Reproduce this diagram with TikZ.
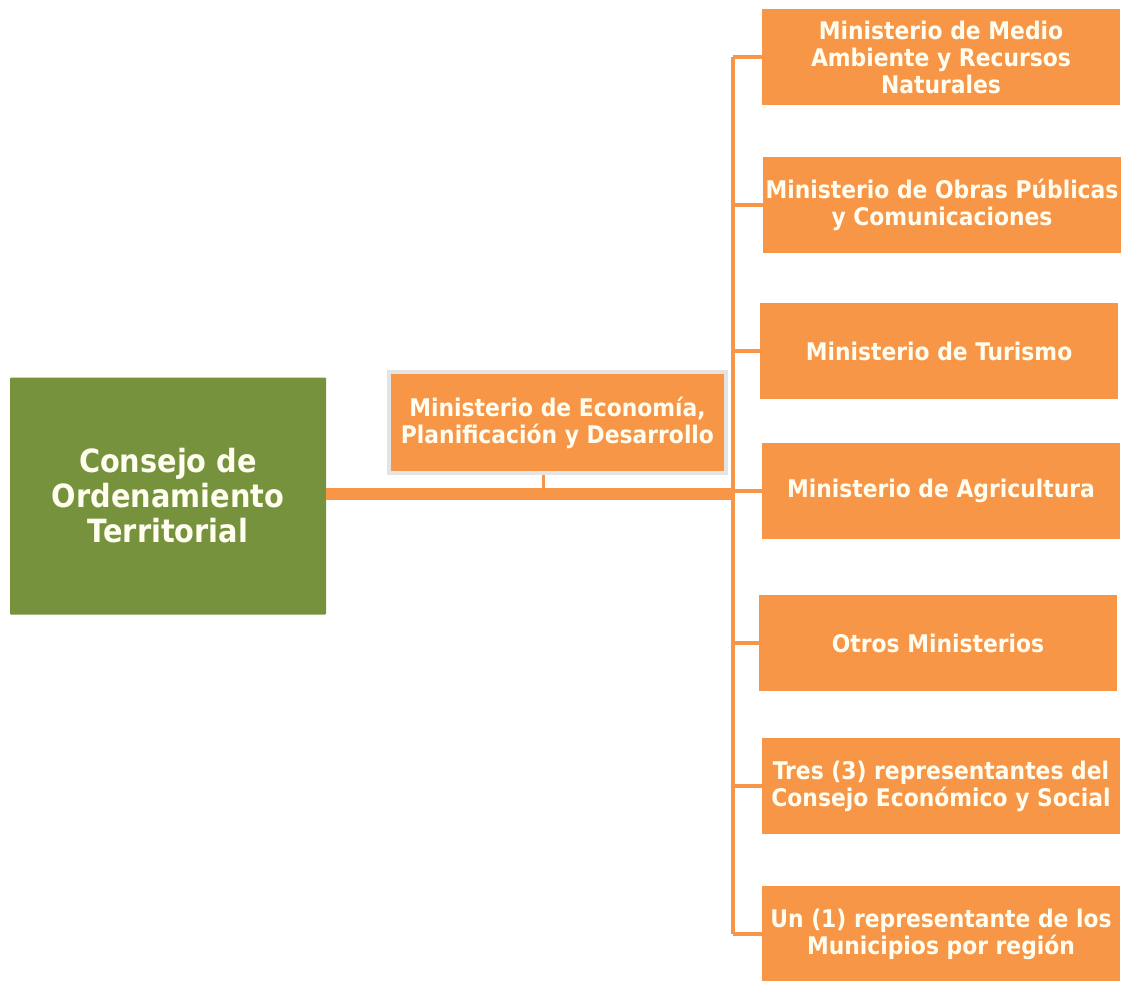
\documentclass[tikz,border=0pt]{standalone}
\usepackage{fontspec}
\setmainfont{DejaVu Sans Condensed}
\definecolor{orgfill}{HTML}{F79646}
\definecolor{grnfill}{HTML}{76923C}
\definecolor{txtcol}{HTML}{FFFDF0}
\definecolor{bordgray}{HTML}{E4E4E4}
\begin{document}
\begin{tikzpicture}[x=1pt,y=-1pt,
  rbox/.style={fill=orgfill, minimum width=358pt, minimum height=96pt, inner sep=0pt,
     text=txtcol, font=\bfseries\fontsize{24.3}{27}\selectfont, align=center},
  gbox/.style={fill=grnfill, minimum width=316pt, minimum height=237pt, inner sep=0pt,
     text=txtcol, font=\bfseries\fontsize{32}{35}\selectfont, align=center, rounded corners=1pt},
  mbox/.style={fill=orgfill, draw=bordgray, line width=4pt, minimum width=337pt, minimum height=101pt, inner sep=0pt,
     text=txtcol, font=\bfseries\fontsize{24.3}{27}\selectfont, align=center},
  conn/.style={draw=orgfill, line width=4pt},
  thick conn/.style={draw=orgfill, line width=12pt},
  tick conn/.style={draw=orgfill, line width=3pt}]
\useasboundingbox (0,0) rectangle (1124,981);
\node[gbox] (cot) at (168,496) {Consejo de\\Ordenamiento\\Territorial};
\node[mbox] (mep) at (557.5,422.5) {Ministerio de Economía,\\Planificación y Desarrollo};
\node[rbox] (r1) at (941,57) {Ministerio de Medio\\Ambiente y Recursos\\Naturales};
\node[rbox] (r2) at (942,205) {Ministerio de Obras Públicas\\y Comunicaciones};
\node[rbox] (r3) at (939,351) {Ministerio de Turismo};
\node[rbox] (r4) at (941,491) {Ministerio de Agricultura};
\node[rbox] (r5) at (938,643) {Otros Ministerios};
\node[rbox] (r6) at (941,786) {Tres (3) representantes del\\Consejo Económico y Social};
\node[rbox] (r7) at (941,934) {Un (1) representante de los\\Municipios por región};
\coordinate (bx) at (733,0);
\coordinate (tk) at (543,0);
\draw[conn] (bx |- r1) -- (bx |- r7);
\foreach \r in {r1,r2,r3,r4,r5,r6,r7} \draw[conn] (bx |- \r) -- (\r.west);
\draw[thick conn] (cot.east |- 0,494) -- (bx |- 0,494);
\draw[tick conn] (tk |- mep.south) -- (tk |- 0,488);
\end{tikzpicture}
\end{document}
